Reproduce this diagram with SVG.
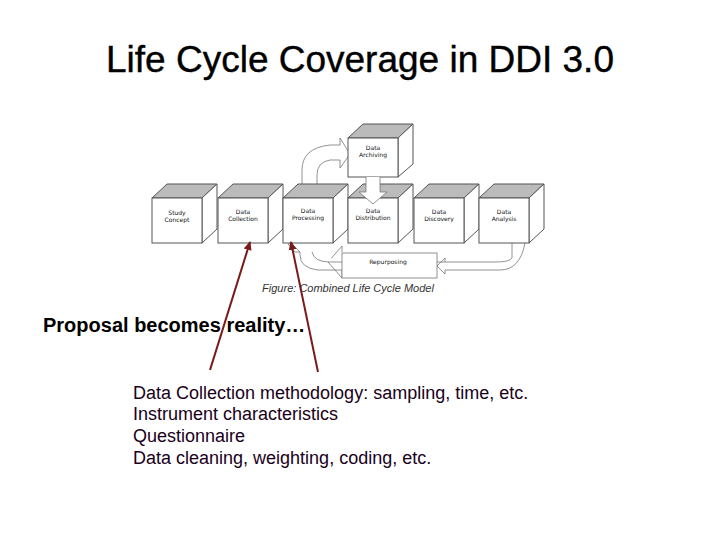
<svg xmlns="http://www.w3.org/2000/svg" width="720" height="540" viewBox="0 0 720 540">
<defs>
<style>
.f{fill:#fff;stroke:#555;stroke-width:1}
.t{fill:#bbb;stroke:#555;stroke-width:1}
.s{fill:#fff;stroke:#555;stroke-width:1}
.l{font-family:"DejaVu Sans",sans-serif;font-size:6px;fill:#111;text-anchor:middle}
.a{fill:#fff;stroke:#777;stroke-width:0.8}
.b{font-family:"Liberation Sans",Arial,sans-serif;font-size:18px;fill:#1a001a}
</style>
<marker id="ar" markerWidth="10" markerHeight="10" refX="8" refY="5" orient="auto" markerUnits="userSpaceOnUse"><path d="M0,1 L9,5 L0,9 Z" fill="#7a1a1a"/></marker>
</defs>
<rect width="720" height="540" fill="#fff"/>
<text x="360" y="72" font-family="Liberation Sans,Arial,sans-serif" font-size="37" text-anchor="middle" fill="#000" stroke="#000" stroke-width="0.4">Life Cycle Coverage in DDI 3.0</text>
<g id="connectors">
<path class="a" d="M302,198 L302,170 Q302,148 330,145 L340,145 L340,138 L350,154 L340,168 L340,160 L330,160 Q317,162 317,175 L317,198"/>
<path class="a" d="M512,243 L512,258 Q510,262 495,262 L437,262 M437,266 L445,258 L445,262 M437,266 L445,274 L445,270 L500,270 Q520,270 525,243"/>
<path class="a" d="M342,252 L342,246 L328,262 L342,278 L342,270 L318,270 Q300,268 300,255 L300,252 L295,252 L288,244 L292,244 L300,252"/>
<path class="a" d="M312,252 Q314,262 330,262 L342,262"/>
<g id="small-arrows" stroke="#333" stroke-width="0.8" fill="none">
<path d="M202,208 L215,208 M212,205 L216,208 L212,211 M202,228 L215,228 M212,225 L216,228 L212,231"/>
<path d="M268,208 L281,208 M278,205 L282,208 L278,211 M268,228 L281,228 M278,225 L282,228 L278,231"/>
<path d="M333,208 L346,208 M343,205 L347,208 L343,211 M333,228 L346,228 M343,225 L347,228 L343,231"/>
<path d="M398,208 L411,208 M408,205 L412,208 L408,211 M398,228 L411,228 M408,225 L412,228 L408,231"/>
<path d="M463,208 L476,208 M473,205 L477,208 L473,211 M463,228 L476,228 M473,225 L477,228 L473,231"/>
</g>
</g>
<g id="n-archiving"><path class="t" d="M348,138 L363,124 L413,124 L398,138Z"/><path class="s" d="M398,138 L413,124 L413,164 L398,177Z"/><rect class="f" x="348" y="138" width="50" height="39"/><text class="l" x="373" y="150">Data</text><text class="l" x="373" y="157">Archiving</text></g>
<g id="n-study"><path class="t" d="M152,198 L167,184 L217,184 L202,198Z"/><path class="s" d="M202,198 L217,184 L217,229 L202,243Z"/><rect class="f" x="152" y="198" width="50" height="45"/><text class="l" x="177" y="215">Study</text><text class="l" x="177" y="222">Concept</text></g>
<g id="n-collection"><path class="t" d="M218,198 L233,184 L283,184 L268,198Z"/><path class="s" d="M268,198 L283,184 L283,229 L268,243Z"/><rect class="f" x="218" y="198" width="50" height="45"/><text class="l" x="243" y="214">Data</text><text class="l" x="243" y="221">Collection</text></g>
<g id="n-processing"><path class="t" d="M283,198 L298,184 L348,184 L333,198Z"/><path class="s" d="M333,198 L348,184 L348,229 L333,243Z"/><rect class="f" x="283" y="198" width="50" height="45"/><text class="l" x="308" y="213" font-size="5">Data</text><text class="l" x="308" y="220" font-size="5">Processing</text></g>
<g id="n-distribution"><path class="t" d="M348,198 L363,184 L413,184 L398,198Z"/><path class="s" d="M398,198 L413,184 L413,229 L398,243Z"/><rect class="f" x="348" y="198" width="50" height="45"/><text class="l" x="373" y="213" font-size="5">Data</text><text class="l" x="373" y="220" font-size="5">Distribution</text></g>
<g id="n-discovery"><path class="t" d="M414,198 L429,184 L479,184 L464,198Z"/><path class="s" d="M464,198 L479,184 L479,229 L464,243Z"/><rect class="f" x="414" y="198" width="50" height="45"/><text class="l" x="439" y="214">Data</text><text class="l" x="439" y="221">Discovery</text></g>
<g id="n-analysis"><path class="t" d="M479,198 L494,184 L544,184 L529,198Z"/><path class="s" d="M529,198 L544,184 L544,229 L529,243Z"/><rect class="f" x="479" y="198" width="50" height="45"/><text class="l" x="504" y="214">Data</text><text class="l" x="504" y="221">Analysis</text></g>
<path id="down-arrow" class="a" d="M366,177 L366,192 L359,192 L373,204 L387,192 L380,192 L380,177"/>
<g id="n-repurposing"><rect class="a" x="342" y="253" width="95" height="25"/><text class="l" x="388" y="264" font-size="6">Repurposing</text></g>
<text x="348" y="292" font-family="Liberation Sans,Arial,sans-serif" font-size="11" font-style="italic" text-anchor="middle" fill="#333">Figure: Combined Life Cycle Model</text>
<g id="red-arrows" stroke="#7a1a1a" stroke-width="2">
<line x1="210" y1="370" x2="250" y2="242" marker-end="url(#ar)"/>
<line x1="318" y1="372" x2="291" y2="242" marker-end="url(#ar)"/>
</g>
<text x="43" y="332" font-family="Liberation Sans,Arial,sans-serif" font-size="20" font-weight="bold" fill="#000">Proposal becomes reality…</text>
<text class="b" x="133" y="399">Data Collection methodology: sampling, time, etc.</text>
<text class="b" x="133" y="420">Instrument characteristics</text>
<text class="b" x="133" y="442">Questionnaire</text>
<text class="b" x="133" y="464">Data cleaning, weighting, coding, etc.</text>
</svg>
